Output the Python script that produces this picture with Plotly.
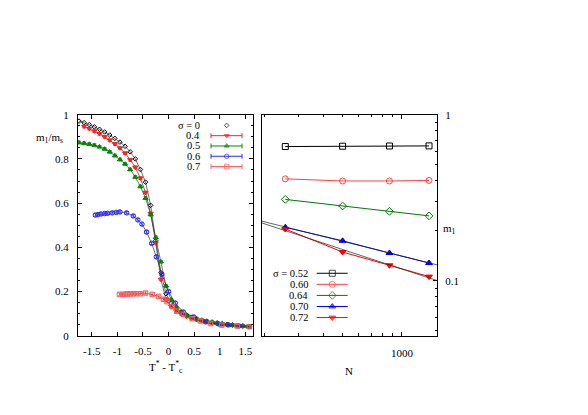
import plotly.graph_objects as go
import numpy as np

W, H = 588, 415
OFF = 8  # page body margin in the screenshot
FONT = "Liberation Serif"

# ---- left panel: m1/ms vs T* - T*c ----
x_s0 = [-1.75, -1.65, -1.55, -1.45, -1.35, -1.25, -1.15, -1.05, -0.95, -0.85, -0.75, -0.65,
        -0.55, -0.45, -0.35, -0.25, -0.15, -0.05, 0.05, 0.15, 0.25, 0.35, 0.45, 0.55, 0.65,
        0.75, 0.85, 0.95, 1.05, 1.15, 1.25, 1.35, 1.45, 1.55]
y_s0 = [0.971, 0.964, 0.955, 0.945, 0.934, 0.922, 0.908, 0.893, 0.876, 0.857, 0.832, 0.800,
        0.752, 0.695, 0.590, 0.430, 0.285, 0.190, 0.148, 0.125, 0.107, 0.094, 0.084, 0.077,
        0.071, 0.066, 0.062, 0.058, 0.055, 0.052, 0.049, 0.046, 0.044, 0.042]

x_s04 = [-1.65, -1.55, -1.45, -1.35, -1.25, -1.15, -1.05, -0.95, -0.85, -0.75, -0.65, -0.55,
         -0.45, -0.35, -0.25, -0.15, -0.05, 0.05, 0.15, 0.25, 0.35, 0.45, 0.55, 0.65, 0.75,
         0.85, 0.95, 1.05, 1.15, 1.25, 1.35, 1.45, 1.55]
y_s04 = [0.947, 0.937, 0.926, 0.914, 0.900, 0.885, 0.868, 0.849, 0.826, 0.796, 0.762, 0.713,
         0.648, 0.553, 0.420, 0.255, 0.165, 0.132, 0.112, 0.098, 0.087, 0.079, 0.072, 0.067,
         0.062, 0.058, 0.055, 0.052, 0.049, 0.047, 0.045, 0.043, 0.041]

x_s05 = [-1.75, -1.65, -1.55, -1.45, -1.35, -1.25, -1.15, -1.05, -0.95, -0.85, -0.75, -0.65,
         -0.55, -0.45, -0.35, -0.25, -0.15, -0.05, 0.05, 0.15, 0.25, 0.35, 0.45, 0.55, 0.65,
         0.75, 0.85, 0.95, 1.05, 1.15, 1.25, 1.35, 1.45, 1.55]
y_s05 = [0.874, 0.871, 0.867, 0.862, 0.855, 0.845, 0.832, 0.815, 0.797, 0.777, 0.752, 0.718,
         0.675, 0.622, 0.548, 0.445, 0.335, 0.225, 0.163, 0.128, 0.107, 0.093, 0.083, 0.076,
         0.070, 0.065, 0.061, 0.057, 0.054, 0.051, 0.048, 0.046, 0.044, 0.042]

x_s06 = [-1.43, -1.38, -1.32, -1.25, -1.19, -1.10, -1.02, -0.95, -0.82, -0.69, -0.60, -0.52,
         -0.43, -0.33, -0.24, -0.13, 0.0, 0.13, 0.29, 0.49, 0.72, 0.98, 1.17, 1.37, 1.58]
y_s06 = [0.546, 0.548, 0.551, 0.553, 0.554, 0.556, 0.558, 0.560, 0.556, 0.542, 0.524, 0.505,
         0.469, 0.418, 0.357, 0.278, 0.200, 0.148, 0.107, 0.085, 0.063, 0.053, 0.049, 0.044, 0.041]

x_s07 = [-0.96, -0.90, -0.85, -0.80, -0.75, -0.69, -0.63, -0.55, -0.45, -0.32, -0.195, -0.10,
         -0.03, 0.07, 0.16, 0.29, 0.46, 0.62, 0.82, 1.04, 1.34, 1.58]
y_s07 = [0.187, 0.187, 0.188, 0.189, 0.189, 0.190, 0.190, 0.190, 0.193, 0.187, 0.178, 0.165,
         0.154, 0.132, 0.111, 0.097, 0.077, 0.067, 0.055, 0.048, 0.044, 0.041]

left_labels = ["σ = 0", "0.4", "0.5", "0.6", "0.7"]

# ---- right panel: m1 vs N ----
N_vals = [256, 500, 864, 1372]
m_052 = [0.643, 0.646, 0.648, 0.649]
m_060 = [0.411, 0.399, 0.399, 0.402]
m_064 = [0.309, 0.282, 0.262, 0.246]
m_070 = [0.210, 0.174, 0.147, 0.128]
m_072 = [0.205, 0.149, 0.124, 0.106]
right_labels = ["σ = 0.52", "0.60", "0.64", "0.70", "0.72"]


def px(x):
    return (x - OFF) / W


def py(y):
    return 1 - (y - OFF) / H


fig = go.Figure()

left_series = [
    (x_s0, y_s0, "#000000", "diamond-open", 3.5, False),
    (x_s04, y_s04, "#ff2020", "triangle-down", 4.5, True),
    (x_s05, y_s05, "#008a00", "triangle-up", 4.5, True),
    (x_s06, y_s06, "#2a2aff", "circle-open", 4.5, True),
    (x_s07, y_s07, "#ff5a5a", "square-open", 4.5, True),
]

for xs, ys, col, sym, size, err in left_series:
    fig.add_trace(go.Scatter(
        x=xs, y=ys, mode="lines+markers",
        line=dict(color="#333333", width=0.7),
        marker=dict(symbol=sym, size=size, color=col, line=dict(color=col, width=1)),
        error_y=dict(type="constant", value=0.006, color=col, thickness=0.8, width=2, visible=err),
        xaxis="x", yaxis="y", showlegend=False,
    ))

right_series = [
    (m_052, "#000000", "square-open"),
    (m_060, "#ff4040", "circle-open"),
    (m_064, "#007a00", "diamond-open"),
    (m_070, "#0000ff", "triangle-up"),
    (m_072, "#ff0000", "triangle-down"),
]

for ms, col, sym in right_series:
    fig.add_trace(go.Scatter(
        x=N_vals, y=ms, mode="lines+markers",
        line=dict(color=col, width=1),
        marker=dict(symbol=sym, size=6, color=col, line=dict(color=col, width=1)),
        xaxis="x2", yaxis="y2", showlegend=False,
    ))

# power-law fits through the two largest sigma series
n_lo, n_hi = 195, 1506
for ms in (m_070, m_072):
    k, b = np.polyfit(np.log10(N_vals), np.log10(ms), 1)
    nn = np.array([n_lo, n_hi])
    fig.add_trace(go.Scatter(
        x=nn, y=10 ** (b + k * np.log10(nn)), mode="lines",
        line=dict(color="#222222", width=0.7),
        xaxis="x2", yaxis="y2", showlegend=False,
    ))

# ---- hand-made gnuplot-style keys (helper axis in pixel coordinates) ----
shapes = []
annotations = []
key_marker = dict(x=[], y=[], sym=[], col=[], size=[])


def add_key(labels, series_styles, tx, rows, lx0, lx1, mx, caps, skip_first_line):
    for i, (lab, (col, sym, size)) in enumerate(zip(labels, series_styles)):
        yy = rows[i]
        annotations.append(dict(text=lab, x=px(tx), y=py(yy), xref="paper", yref="paper",
                                xanchor="right", yanchor="middle", showarrow=False,
                                font=dict(family=FONT, size=10.5, color="black")))
        if not (skip_first_line and i == 0):
            shapes.append(dict(type="line", xref="paper", yref="paper",
                               x0=px(lx0), x1=px(lx1), y0=py(yy), y1=py(yy),
                               line=dict(color=col, width=1)))
            if caps:
                for cx in (lx0, lx1):
                    shapes.append(dict(type="line", xref="paper", yref="paper",
                                       x0=px(cx), x1=px(cx), y0=py(yy - 2.5), y1=py(yy + 2.5),
                                       line=dict(color=col, width=1)))
        key_marker["x"].append(mx - OFF)
        key_marker["y"].append(yy - OFF)
        key_marker["sym"].append(sym)
        key_marker["col"].append(col)
        key_marker["size"].append(size)


add_key(left_labels, [(c, s, z) for _, _, c, s, z, _ in left_series],
        202, [122.7, 133.3, 143.9, 154.5, 165.1], 211, 242, 226.7, True, True)
add_key(right_labels, [(c, s, 6) for _, c, s in right_series],
        310, [275.0, 286.4, 297.8, 309.2, 320.6], 316.7, 347.7, 332.3, False, False)

fig.add_trace(go.Scatter(
    x=key_marker["x"], y=key_marker["y"], mode="markers",
    marker=dict(symbol=key_marker["sym"], size=key_marker["size"], color=key_marker["col"],
                line=dict(color=key_marker["col"], width=1)),
    xaxis="x3", yaxis="y3", showlegend=False, hoverinfo="skip",
))

# axis titles / labels
lab_font = dict(family=FONT, size=11, color="black")
annotations += [
    dict(text="m<sub>1</sub>/m<sub>s</sub>", x=px(49), y=py(136), font=lab_font),
    dict(text="T<sup>*</sup> - T<sup>*</sup><sub>c</sub>", x=px(166), y=py(372), font=lab_font),
    dict(text="N", x=px(349), y=py(376), font=lab_font),
    dict(text="m<sub>1</sub>", x=px(450), y=py(229), font=lab_font),
]
for a in annotations[-4:]:
    a.update(xref="paper", yref="paper", xanchor="center", yanchor="middle", showarrow=False)

ax_common = dict(showline=True, linecolor="black", linewidth=1, showgrid=False,
                 zeroline=False, ticks="inside", tickcolor="black",
                 tickfont=dict(family=FONT, size=11, color="black"))

y_lo, y_hi = 339.3, 111.7
fig.update_layout(
    width=W, height=H,
    margin=dict(l=0, r=0, t=0, b=0),
    paper_bgcolor="white", plot_bgcolor="rgba(0,0,0,0)",
    font=dict(family=FONT, size=11, color="black"),
    showlegend=False,
    xaxis=dict(ax_common, domain=[px(78), px(253)], range=[-1.77, 1.65], anchor="y",
               tickvals=[-1.5, -1, -0.5, 0, 0.5, 1, 1.5],
               ticktext=["-1.5", "-1", "-0.5", "0", "0.5", "1", "1.5"],
               ticklen=4, mirror="ticks", ticklabelstandoff=5),
    yaxis=dict(ax_common, domain=[py(y_lo), py(y_hi)], range=[0, 1], anchor="x",
               tickvals=[0, 0.2, 0.4, 0.6, 0.8, 1],
               ticktext=["0", "0.2", "0.4", "0.6", "0.8", "1"],
               ticklen=4, mirror="ticks", ticklabelstandoff=6,
               minor=dict(dtick=0.05, ticks="inside", ticklen=2, tickcolor="black")),
    xaxis2=dict(ax_common, domain=[px(262), px(437)], type="log",
                range=[np.log10(n_lo), np.log10(n_hi)], anchor="y2",
                tickvals=[1000], ticktext=["1000"], ticklen=4, mirror="ticks",
                ticklabelstandoff=7,
                minor=dict(tickvals=[200, 300, 400, 500, 600, 700, 800, 900],
                           ticks="inside", ticklen=2.5, tickcolor="black")),
    yaxis2=dict(ax_common, domain=[py(y_lo), py(y_hi)], type="log",
                range=[np.log10(0.0467), 0], anchor="x2", side="right",
                tickvals=[0.1, 1], ticktext=["0.1", "1"], ticklen=4, mirror=True,
                ticklabelstandoff=5,
                minor=dict(tickvals=[0.05, 0.06, 0.07, 0.08, 0.09, 0.2, 0.3, 0.4, 0.5,
                                     0.6, 0.7, 0.8, 0.9],
                           ticks="inside", ticklen=2.5, tickcolor="black")),
    xaxis3=dict(domain=[0, 1], range=[0, W], visible=False, anchor="y3", fixedrange=True),
    yaxis3=dict(domain=[0, 1], range=[H, 0], visible=False, anchor="x3", fixedrange=True),
    shapes=shapes,
    annotations=annotations,
)

fig.write_html("out.html")
